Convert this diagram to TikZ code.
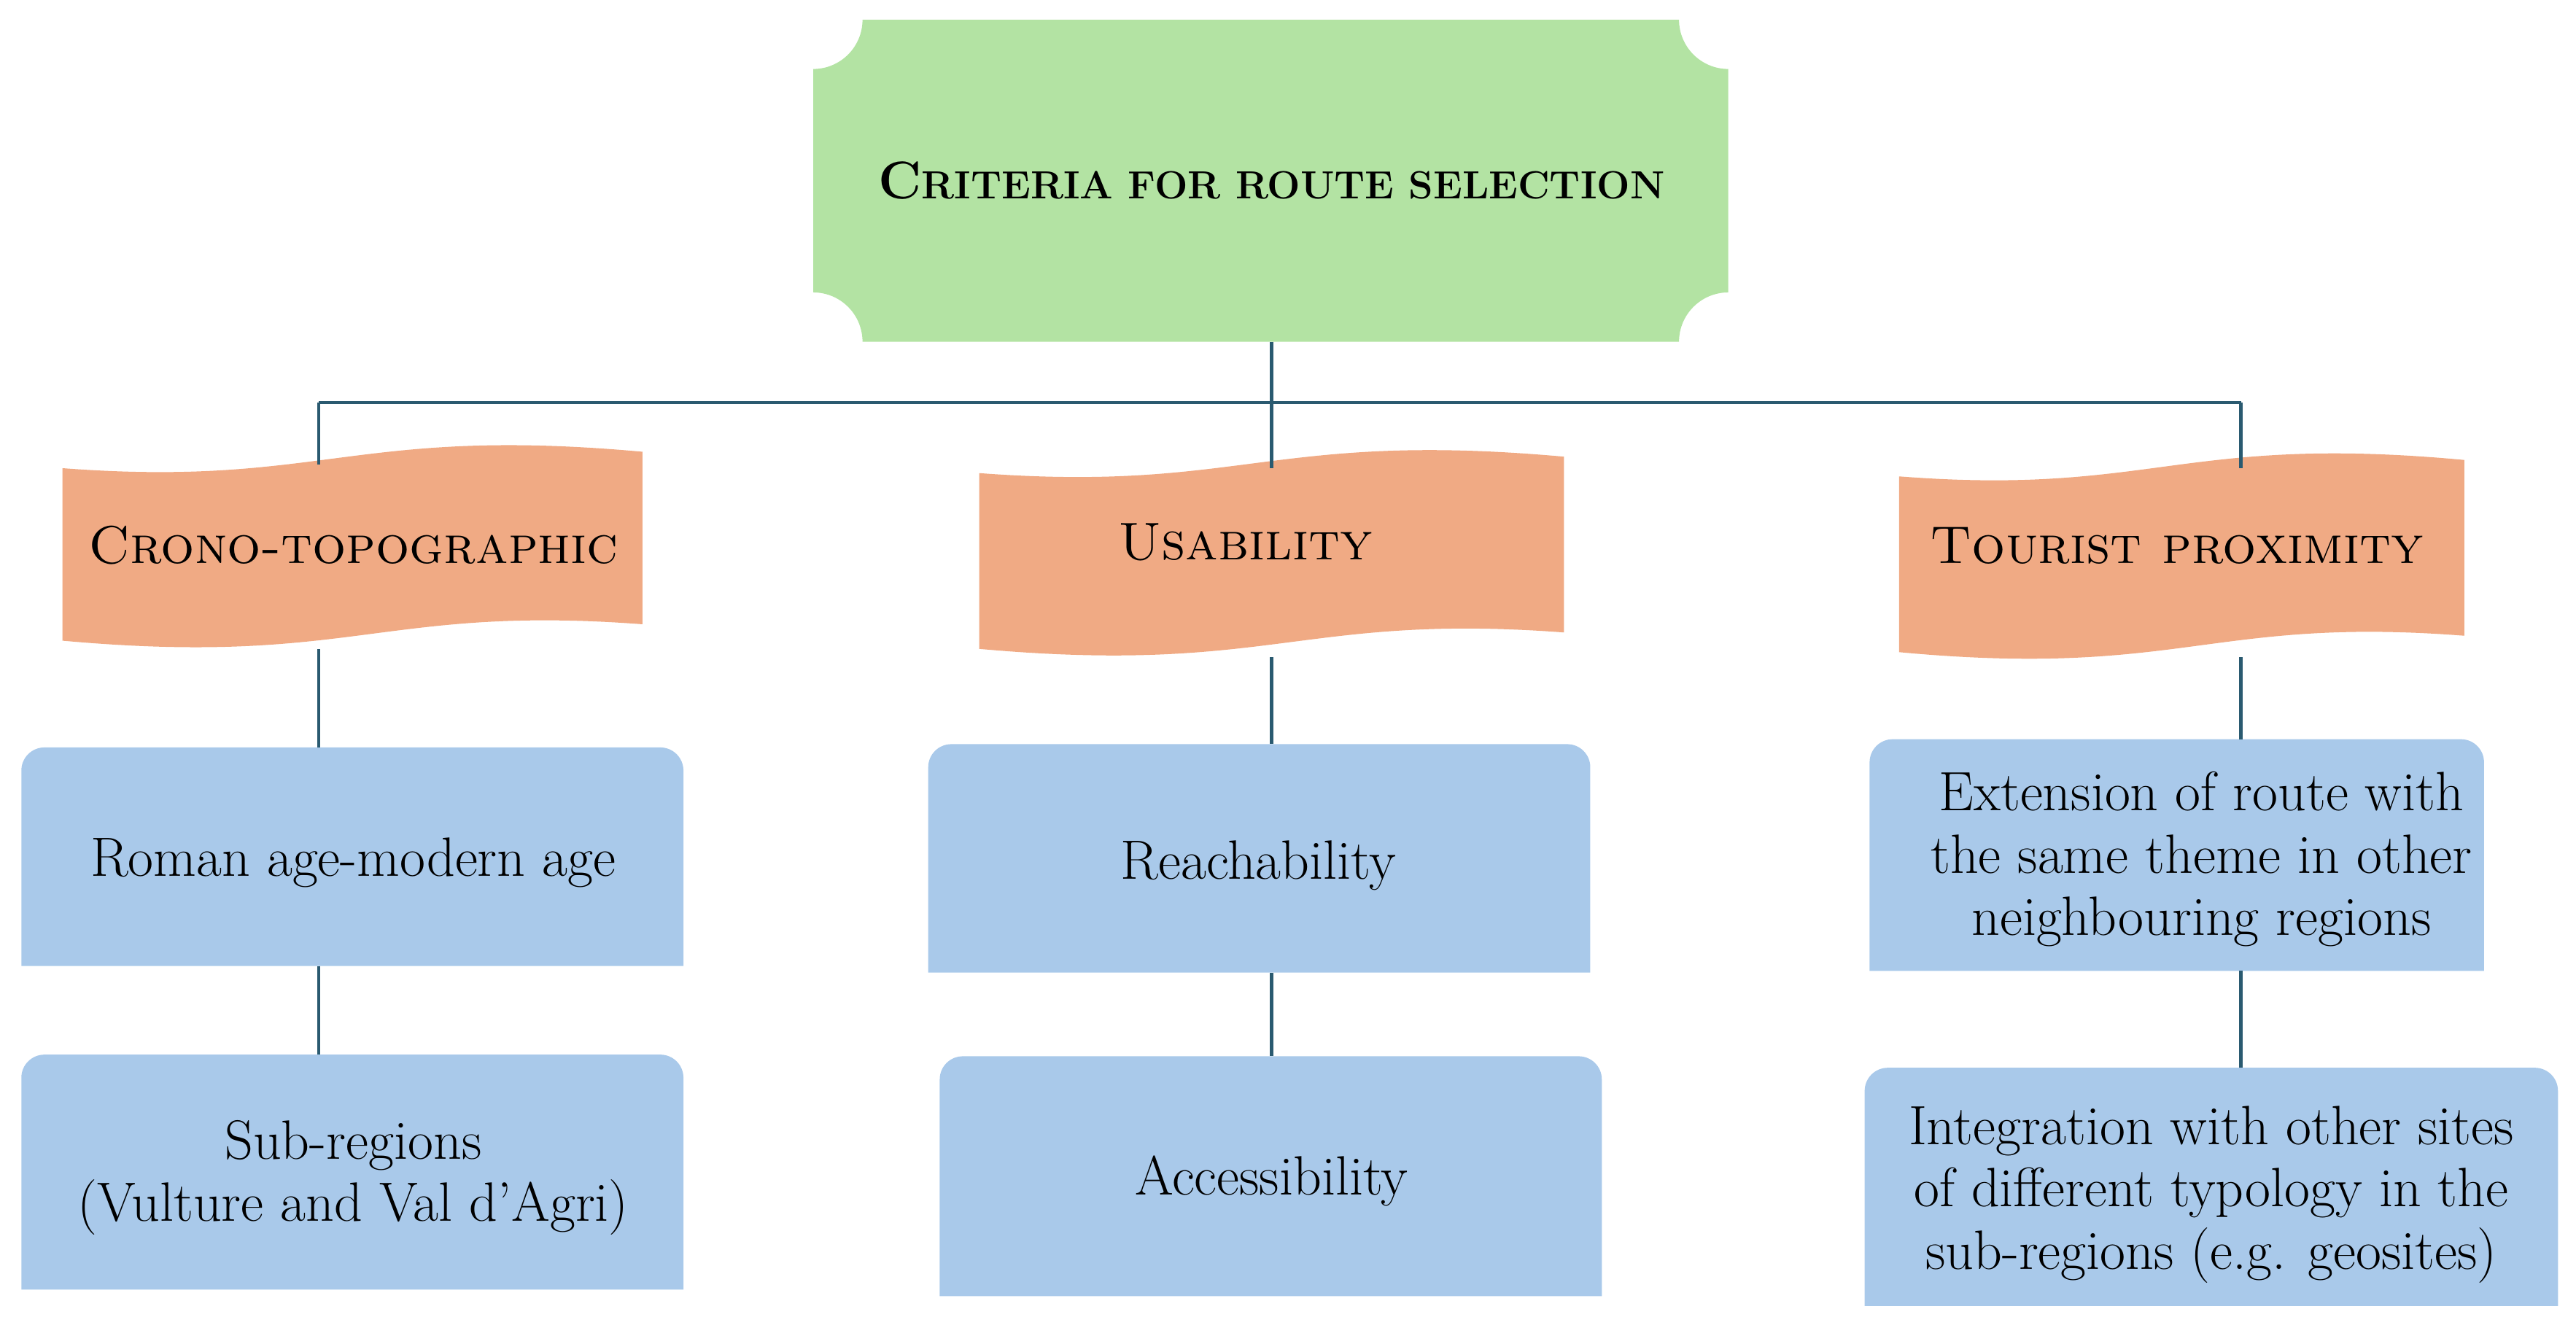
\documentclass[tikz,border=0pt]{standalone}
\begin{document}
\definecolor{grn}{HTML}{B3E3A3}
\definecolor{org}{HTML}{F0AA84}
\definecolor{blu}{HTML}{A9C9EA}
\definecolor{ln}{HTML}{2A5A70}
\newcommand\wavebanner[4]{%
 \fill[org] ({#1},{-(#3+20)}) .. controls ({#1+0.45*(#2-#1)},{-(#3+32)}) and ({#1+0.5*(#2-#1)},{-(#3-6)}) .. ({#2},{-(#3+10)})
  -- ({#2},{-(#4-20)}) .. controls ({#2-0.45*(#2-#1)},{-(#4-32)}) and ({#2-0.5*(#2-#1)},{-(#4+6)}) .. ({#1},{-(#4-10)}) -- cycle;}
\newcommand\topround[4]{%
 \fill[blu] ({#1},{-#4}) [rounded corners=20] -- ({#1},{-#3}) -- ({#2},{-#3}) [sharp corners] -- ({#2},{-#4}) -- cycle;}
\begin{tikzpicture}[x=0.05cm,y=0.05cm,
  body/.style={font=\fontsize{48}{54}\selectfont,align=center},
  head/.style={font=\fontsize{46}{54}\selectfont\scshape},
  conn/.style={draw=ln,line width=2.8pt}]
\useasboundingbox (0,0) rectangle (1568,-813);
% top box
\fill[grn] (525,-12) -- (1022,-12) arc (180:270:30) -- (1052,-178) arc (90:180:30) -- (525,-208) arc (0:90:30) -- (495,-42) arc (-90:0:30) -- cycle;
\node[font=\fontsize{46}{54}\selectfont\bfseries] (top) at (774,-110) {C{\fontsize{34}{40}\selectfont RITERIA FOR ROUTE SELECTION}};
% banners
\wavebanner{38}{391}{265}{400}
\wavebanner{596}{952}{268}{405}
\wavebanner{1156}{1500}{270}{407}
\node[head] (b1) at (215,-332) {Crono-topographic};
\node[head] (b2) at (758,-330) {Usability};
\node[head] (b3) at (1325,-332) {Tourist proximity};
% blue boxes
\topround{13}{416}{455}{588}
\topround{565}{968}{453}{592}
\topround{1138}{1512}{450}{591}
\topround{13}{416}{642}{785}
\topround{572}{975}{643}{789}
\topround{1135}{1557}{650}{795}
\node[body] (l1) at (215,-525) {Roman age-modern age};
\node[body] (m1) at (766,-527) {Reachability};
\node[body] (r1) at (1340,-523) {Extension of route with\\the same theme in other\\neighbouring regions};
\node[body] (l2) at (215,-717) {Sub-regions\\(Vulture and Val d'Agri)};
\node[body] (m2) at (774,-719) {Accessibility};
\node[body] (r2) at (1346,-727) {Integration with other sites\\of different typology in the\\sub-regions (e.g. geosites)};
% connector coordinates
\coordinate (tb) at (774,-208);
\coordinate (hj) at (774,-245);
\coordinate (hl) at (194,-245);
\coordinate (hr) at (1364,-245);
\coordinate (b1t) at (194,-283);
\coordinate (b2t) at (774,-285);
\coordinate (b3t) at (1364,-285);
\coordinate (b1b) at (194,-395);
\coordinate (b2b) at (774,-400);
\coordinate (b3b) at (1364,-400);
\coordinate (l1t) at (194,-455);
\coordinate (m1t) at (774,-453);
\coordinate (r1t) at (1364,-450);
\coordinate (l1b) at (194,-588);
\coordinate (m1b) at (774,-592);
\coordinate (r1b) at (1364,-591);
\coordinate (l2t) at (194,-642);
\coordinate (m2t) at (774,-643);
\coordinate (r2t) at (1364,-650);
\draw[conn] (tb) -- (hj) (hl) -- (hr) (hl) -- (b1t) (hj) -- (b2t) (hr) -- (b3t)
 (b1b) -- (l1t) (b2b) -- (m1t) (b3b) -- (r1t)
 (l1b) -- (l2t) (m1b) -- (m2t) (r1b) -- (r2t);
\end{tikzpicture}
\end{document}
